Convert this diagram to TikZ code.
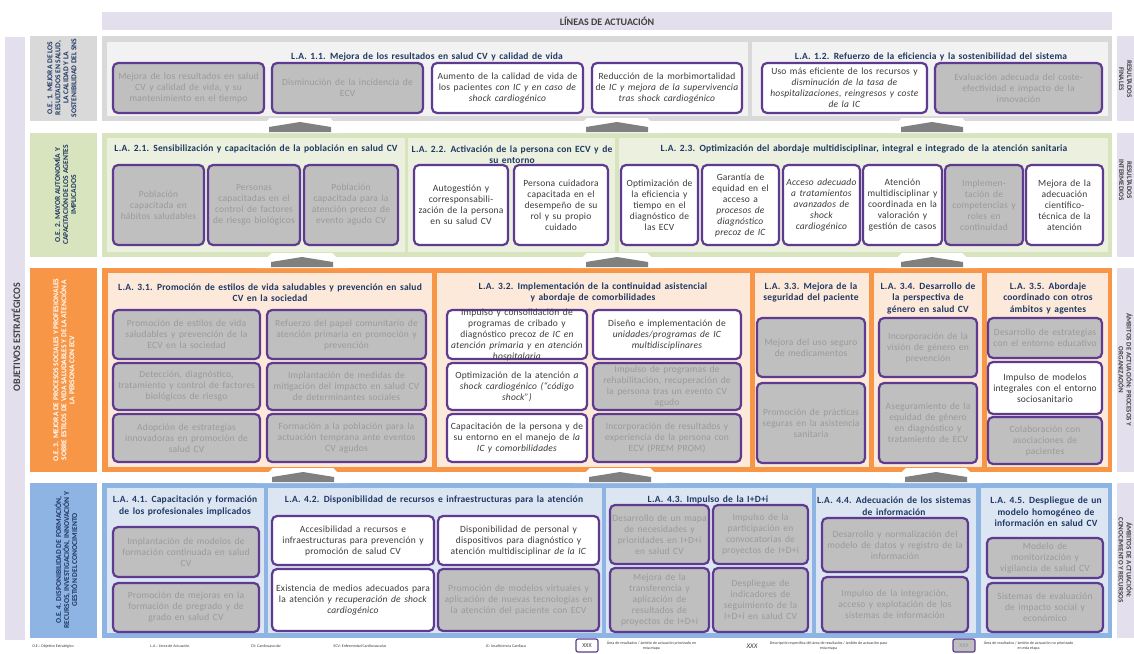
\documentclass[tikz,border=0pt]{standalone}
\usepackage{fontspec}
\setmainfont{Carlito}
\newfontfamily\fcaja{Carlito}[LetterSpace=2, WordSpace=1.5]
\usetikzlibrary{positioning}

\definecolor{lila}{HTML}{E4DFEC}
\definecolor{morado}{HTML}{5E3A91}
\definecolor{azultit}{HTML}{203864}
\definecolor{grisfill}{HTML}{BFBFBF}
\definecolor{gristxt}{HTML}{9A9A9A}
\definecolor{txt}{HTML}{3A3A3A}
\definecolor{oscuro}{HTML}{404040}
\definecolor{gris1}{HTML}{D9D9D9}
\definecolor{gris2}{HTML}{F2F2F2}
\definecolor{verde1}{HTML}{D7E4BD}
\definecolor{verde2}{HTML}{EBF1DE}
\definecolor{naranja1}{HTML}{F79646}
\definecolor{naranja2}{HTML}{FDE9D9}
\definecolor{azul1}{HTML}{8DB4E2}
\definecolor{azul2}{HTML}{DCE6F2}
\definecolor{flecha}{HTML}{808080}

% caja: nombre, estilo, x1, y1, x2, y2, texto
\newcommand{\caja}[7]{\node[#2, minimum width={(#5-#3)*1pt}, minimum height={(#6-#4)*1pt}] (#1) at ({(#3+#5)/2},{(#4+#6)/2}) {#7};}
% flecha gris entre filas: x centro, y base
\newcommand{\flecha}[2]{%
  \fill[white] (#1-46,#2+1) -- (#1-30,#2-14) -- (#1+30,#2-14) -- (#1+46,#2+1) -- cycle;
  \fill[flecha] (#1-31,#2) -- (#1-31,#2-5) -- (#1,#2-10) -- (#1+31,#2-5) -- (#1+31,#2) -- cycle;}

\begin{document}
\begin{tikzpicture}[x=1pt, y=-1pt]

    % Estilos
    \tikzstyle{caja} = [rectangle, rounded corners=5pt, draw=morado, line width=2.2pt, align=center, inner xsep=-4pt, inner ysep=1pt, font=\fcaja\fontsize{9.5}{11}\selectfont]
    \tikzstyle{cajasi} = [caja, fill=white, text=txt]
    \tikzstyle{cajano} = [caja, fill=grisfill, text=gristxt]
    \tikzstyle{titulo} = [align=center, inner sep=0pt, text=azultit, font=\fcaja\bfseries\fontsize{9.5}{11.5}\selectfont]
    \tikzstyle{objetivo} = [rotate=90, align=center, inner sep=0pt, text=azultit, font=\bfseries\fontsize{7.5}{8}\selectfont]
    \tikzstyle{lateral} = [rotate=-90, align=center, inner sep=0pt, text=oscuro, font=\bfseries\fontsize{7}{8}\selectfont]
    \tikzstyle{leyenda} = [inner sep=0pt, align=center, text=txt, font=\fontsize{4}{4.8}\selectfont]

    \useasboundingbox (0,0) rectangle (1134,653);

    % Marcos
    \fill[lila] (5,37) rectangle (25,640);
    \fill[lila] (102,12) rectangle (1112,30);
    \fill[lila] (1117,36) rectangle (1134,121);
    \fill[lila] (1117,133) rectangle (1134,257);
    \fill[lila] (1117,268) rectangle (1134,472);
    \fill[lila] (1117,483) rectangle (1134,638);

    \fill[gris1] (30,36) rectangle (97,121);
    \fill[verde1] (30,133) rectangle (97,257);
    \fill[naranja1] (30,268) rectangle (97,472);
    \fill[azul1] (30,483) rectangle (97,638);

    \fill[gris1] (102,36) rectangle (1112,121);
    \fill[gris2] (107,42) rectangle (748,116);
    \fill[gris2] (752,42) rectangle (1108,116);

    \fill[verde1] (102,133) rectangle (1112,257);
    \fill[verde2] (107,138) rectangle (405,252);
    \fill[verde2] (408,138) rectangle (615,252);
    \fill[verde2] (619,138) rectangle (1108,252);

    \fill[naranja1] (102,268) rectangle (1112,472);
    \fill[naranja2] (108,273) rectangle (432,467);
    \fill[naranja2] (437,273) rectangle (750,467);
    \fill[naranja2] (755,273) rectangle (869,467);
    \fill[naranja2] (874,273) rectangle (982,467);
    \fill[naranja2] (987,273) rectangle (1108,467);

    \fill[azul1] (102,483) rectangle (1112,638);
    \fill[azul2] (107,488) rectangle (264,633);
    \fill[azul2] (268,488) rectangle (602,633);
    \fill[azul2] (606,488) rectangle (812,633);
    \fill[azul2] (816,488) rectangle (976,633);
    \fill[azul2] (981,488) rectangle (1108,633);

    % Flechas
    \flecha{300}{132} \flecha{617}{132} \flecha{932}{132}
    \flecha{302}{267} \flecha{617}{267} \flecha{932}{267}
    \flecha{303}{482} \flecha{620}{482} \flecha{936}{482}

    % Cabeceras y etiquetas laterales
    \node[inner sep=0pt, text=oscuro, font=\bfseries\fontsize{10}{12}\selectfont] (cab) at (607,21) {LÍNEAS DE ACTUACIÓN};
    \node[rotate=90, inner sep=0pt, text=oscuro, font=\bfseries\fontsize{10}{12}\selectfont] (oes) at (16,337) {OBJETIVOS ESTRATÉGICOS};
    \node[lateral] (fin) at (1125.5,79) {RESULTADOS\\FINALES};
    \node[lateral] (int) at (1125.5,180) {RESULTADOS\\INTERMEDIOS};
    \node[lateral] (org) at (1125.5,370) {ÁMBITOS DE ACTUACIÓN: PROCESOS Y\\ORGANIZACIÓN};
    \node[lateral] (con) at (1125.5,560) {ÁMBITOS DE ACTUACIÓN:\\CONOCIMIENTO Y RECURSOS};

    \node[objetivo] (oe1) at (62,78) {O.E. 1. MEJORA DE LOS\\RESULTADOS EN SALUD,\\LA CALIDAD Y LA\\SOSTENIBILIDAD DEL SNS};
    \node[objetivo] (oe2) at (65,195) {O.E. 2. MAYOR AUTONOMÍA Y\\CAPACITACIÓN DE LOS AGENTES\\IMPLICADOS};
    \node[objetivo, text=white] (oe3) at (64,370) {O.E. 3. MEJORA DE PROCESOS SOCIALES Y PROFESIONALES\\SOBRE ESTILOS DE VIDA SALUDABLES Y DE LA ATENCIÓN A\\LA PERSONA CON ECV};
    \node[objetivo] (oe4) at (66,560) {O.E. 4. DISPONIBILIDAD DE FORMACIÓN,\\RECURSOS, INVESTIGACIÓN, INNOVACIÓN Y\\GESTIÓN DEL CONOCIMIENTO};

    % Titulos de las lineas
    \node[titulo] (la11) at (427,57) {L.A. 1.1. Mejora de los resultados en salud CV y calidad de vida};
    \node[titulo] (la12) at (931,57) {L.A. 1.2. Refuerzo de la eficiencia y la sostenibilidad del sistema};
    \node[titulo] (la21) at (256,149) {L.A. 2.1. Sensibilización y capacitación de la población en salud CV};
    \node[titulo] (la22) at (512,154.5) {L.A. 2.2. Activación de la persona con ECV y de\\su entorno};
    \node[titulo] (la23) at (864,149) {L.A. 2.3. Optimización del abordaje multidisciplinar, integral e integrado de la atención sanitaria};
    \node[titulo] (la31) at (270,292.5) {L.A. 3.1. Promoción de estilos de vida saludables y prevención en salud\\CV en la sociedad};
    \node[titulo] (la32) at (593,292.5) {L.A. 3.2. Implementación de la continuidad asistencial\\y abordaje de comorbilidades};
    \node[titulo] (la33) at (811,292.5) {L.A. 3.3. Mejora de la\\seguridad del paciente};
    \node[titulo] (la34) at (928,298) {L.A. 3.4. Desarrollo de\\la perspectiva de\\género en salud CV};
    \node[titulo] (la35) at (1048,298) {L.A. 3.5. Abordaje\\coordinado con otros\\ámbitos y agentes};
    \node[titulo] (la41) at (185,506) {L.A. 4.1. Capacitación y formación\\de los profesionales implicados};
    \node[titulo] (la42) at (434,500) {L.A. 4.2. Disponibilidad de recursos e infraestructuras para la atención};
    \node[titulo] (la43) at (708,500) {L.A. 4.3. Impulso de la I+D+i};
    \node[titulo] (la44) at (894,506) {L.A. 4.4. Adecuación de los sistemas\\de información};
    \node[titulo] (la45) at (1046,512) {L.A. 4.5. Despliegue de un\\modelo homogéneo de\\información en salud CV};

    % Fila 1
    \caja{b11a}{cajano}{113}{63}{264}{113}{Mejora de los resultados en salud\\CV y calidad de vida, y su\\mantenimiento en el tiempo}
    \caja{b11b}{cajano}{272}{63}{423}{113}{Disminución de la incidencia de\\ECV}
    \caja{b11c}{cajasi}{432}{63}{583}{113}{Aumento de la calidad de vida de\\los pacientes \emph{con IC y en caso de}\\\emph{shock cardiogénico}}
    \caja{b11d}{cajasi}{592}{63}{742}{113}{Reducción de la morbimortalidad\\de \emph{IC y mejora de la supervivencia}\\\emph{tras shock cardiogénico}}
    \caja{b12a}{cajasi}{762}{63}{927}{113}{Uso más eficiente de los recursos y\\\emph{disminución de la tasa de}\\\emph{hospitalizaciones, reingresos y coste}\\\emph{de la IC}}
    \caja{b12b}{cajano}{935}{63}{1102}{113}{Evaluación adecuada del coste-\\efectividad e impacto de la\\innovación}

    % Fila 2
    \caja{b21a}{cajano}{113}{165}{204}{245}{Población\\capacitada en\\hábitos saludables}
    \caja{b21b}{cajano}{208}{165}{300}{245}{Personas\\capacitadas en el\\control de factores\\de riesgo biológicos}
    \caja{b21c}{cajano}{304}{165}{398}{245}{Población\\capacitada para la\\atención precoz de\\evento agudo CV}
    \caja{b22a}{cajasi}{414}{165}{508}{245}{Autogestión y\\corresponsabili-\\zación de la persona\\en su salud CV}
    \caja{b22b}{cajasi}{514}{165}{608}{245}{Persona cuidadora\\capacitada en el\\desempeño de su\\rol y su propio\\cuidado}
    \caja{b23a}{cajasi}{621}{165}{698}{245}{Optimización de\\la eficiencia y\\tiempo en el\\diagnóstico de\\las ECV}
    \caja{b23b}{cajasi}{702}{165}{779}{245}{Garantía de\\equidad en el\\acceso a\\\emph{procesos de}\\\emph{diagnóstico}\\\emph{precoz de IC}}
    \caja{b23c}{cajasi}{783}{165}{860}{245}{\emph{Acceso adecuado}\\\emph{a tratamientos}\\\emph{avanzados de}\\\emph{shock}\\\emph{cardiogénico}}
    \caja{b23d}{cajasi}{863}{165}{942}{245}{Atención\\multidisciplinar y\\coordinada en la\\valoración y\\gestión de casos}
    \caja{b23e}{cajano}{945}{165}{1023}{245}{Implemen-\\tación de\\competencias y\\roles en\\continuidad}
    \caja{b23f}{cajasi}{1026}{165}{1103}{245}{Mejora de la\\adecuación\\científico-\\técnica de la\\atención}

    % Fila 3
    \caja{b31a}{cajano}{113}{310}{260}{359}{Promoción de estilos de vida\\saludables y prevención de la\\ECV en la sociedad}
    \caja{b31b}{cajano}{267}{310}{426}{359}{Refuerzo del papel comunitario de\\atención primaria en promoción y\\prevención}
    \caja{b31c}{cajano}{113}{363}{260}{410}{Detección, diagnóstico,\\tratamiento y control de factores\\biológicos de riesgo}
    \caja{b31d}{cajano}{267}{363}{426}{410}{Implantación de medidas de\\mitigación del impacto en salud CV\\de determinantes sociales}
    \caja{b31e}{cajano}{113}{414}{260}{462}{Adopción de estrategias\\innovadoras en promoción de\\salud CV}
    \caja{b31f}{cajano}{267}{414}{426}{462}{Formación a la población para la\\actuación temprana ante eventos\\CV agudos}
    \caja{b32a}{cajasi, inner ysep=-4pt}{447}{310}{587}{359}{Impulso y consolidación de\\programas de cribado y\\diagnóstico precoz \emph{de IC en}\\\emph{atención primaria y en atención}\\\emph{hospitalaria}}
    \caja{b32b}{cajasi}{593}{310}{741}{359}{Diseño e implementación de\\\emph{unidades/programas de IC}\\\emph{multidisciplinares}}
    \caja{b32c}{cajasi}{447}{363}{587}{410}{Optimización de la atención \emph{a}\\\emph{shock cardiogénico (“código}\\\emph{shock”)}}
    \caja{b32d}{cajano}{593}{363}{741}{410}{Impulso de programas de\\rehabilitación, recuperación de\\la persona tras un evento CV\\agudo}
    \caja{b32e}{cajasi}{447}{414}{587}{462}{Capacitación de la persona y de\\su entorno en el manejo de \emph{la}\\\emph{IC y comorbilidades}}
    \caja{b32f}{cajano}{593}{414}{741}{462}{Incorporación de resultados y\\experiencia de la persona con\\ECV (PREM PROM)}
    \caja{b33a}{cajano}{757}{318}{865}{377}{Mejora del uso seguro\\de medicamentos}
    \caja{b33b}{cajano}{757}{383}{865}{463}{Promoción de prácticas\\seguras en la asistencia\\sanitaria}
    \caja{b34a}{cajano}{879}{318}{977}{377}{Incorporación de la\\visión de género en\\prevención}
    \caja{b34b}{cajano}{879}{383}{977}{463}{Aseguramiento de la\\equidad de género\\en diagnóstico y\\tratamiento de ECV}
    \caja{b35a}{cajano}{988}{318}{1102}{358}{Desarrollo de estrategias\\con el entorno educativo}
    \caja{b35b}{cajasi}{988}{362}{1102}{414}{Impulso de modelos\\integrales con el entorno\\sociosanitario}
    \caja{b35c}{cajano}{988}{417}{1102}{464}{Colaboración con\\asociaciones de\\pacientes}

    % Fila 4
    \caja{b41a}{cajano}{113}{527}{259}{577}{Implantación de modelos de\\formación continuada en salud\\CV}
    \caja{b41b}{cajano}{113}{583}{259}{632}{Promoción de mejoras en la\\formación de pregrado y de\\grado en salud CV}
    \caja{b42a}{cajasi}{272}{516}{434}{565}{Accesibilidad a recursos e\\infraestructuras para prevención y\\promoción de salud CV}
    \caja{b42b}{cajasi}{438}{516}{599}{565}{Disponibilidad de personal y\\dispositivos para diagnóstico y\\atención multidisciplinar \emph{de la IC}}
    \caja{b42c}{cajasi}{272}{569}{434}{631}{Existencia de medios adecuados para\\la atención \emph{y recuperación de shock}\\\emph{cardiogénico}}
    \caja{b42d}{cajano}{438}{569}{599}{631}{Promoción de modelos virtuales y\\aplicación de nuevas tecnologías en\\la atención del paciente con ECV}
    \caja{b43a}{cajano}{610}{505}{709}{564}{Desarrollo de un mapa\\de necesidades y\\prioridades en I+D+i\\en salud CV}
    \caja{b43b}{cajano}{713}{505}{808}{564}{Impulso de la\\participación en\\convocatorias de\\proyectos de I+D+i}
    \caja{b43c}{cajano}{610}{568}{709}{632}{Mejora de la\\transferencia y\\aplicación de\\resultados de\\proyectos de I+D+i}
    \caja{b43d}{cajano}{713}{568}{808}{632}{Despliegue de\\indicadores de\\seguimiento de la\\I+D+i en salud CV}
    \caja{b44a}{cajano}{822}{518}{968}{572}{Desarrollo y normalización del\\modelo de datos y registro de la\\información}
    \caja{b44b}{cajano}{822}{577}{968}{632}{Impulso de la integración,\\acceso y explotación de los\\sistemas de información}
    \caja{b45a}{cajano}{987}{538}{1103}{578}{Modelo de\\monitorización y\\vigilancia de salud CV}
    \caja{b45b}{cajano}{987}{583}{1103}{632}{Sistemas de evaluación\\de impacto social y\\económico}

    % Leyenda
    \node[leyenda] (ley1) at (53,646) {O.E.: Objetivo Estratégico};
    \node[leyenda] (ley2) at (170,646) {L.A.: Línea de Actuación};
    \node[leyenda] (ley3) at (266,646) {CV: Cardiovascular};
    \node[leyenda] (ley4) at (360,646) {ECV: Enfermedad Cardiovascular};
    \node[leyenda] (ley5) at (506,646) {IC: Insuficiencia Cardiaca};
    \node[cajasi, minimum width=22pt, minimum height=13pt, inner xsep=1pt, line width=1.2pt, rounded corners=2pt, font=\fontsize{6}{7}\selectfont] (ley6) at (587,645.5) {XXX};
    \node[leyenda, right=8pt of ley6] (ley7) {Área de resultados / ámbito de actuación priorizado en\\esta etapa};
    \node[inner sep=0pt, text=txt, font=\itshape\fontsize{7}{8}\selectfont] (ley8) at (752,646) {XXX};
    \node[leyenda, right=12pt of ley8] (ley9) {Descripción específica del área de resultados / ámbito de actuación para\\esta etapa};
    \node[cajano, minimum width=22pt, minimum height=13pt, inner xsep=1pt, line width=1.2pt, rounded corners=2pt, font=\fontsize{6}{7}\selectfont] (ley10) at (964,645.5) {XXX};
    \node[leyenda, right=8pt of ley10] (ley11) {Área de resultados / ámbito de actuación no priorizado\\en esta etapa};

\end{tikzpicture}
\end{document}
